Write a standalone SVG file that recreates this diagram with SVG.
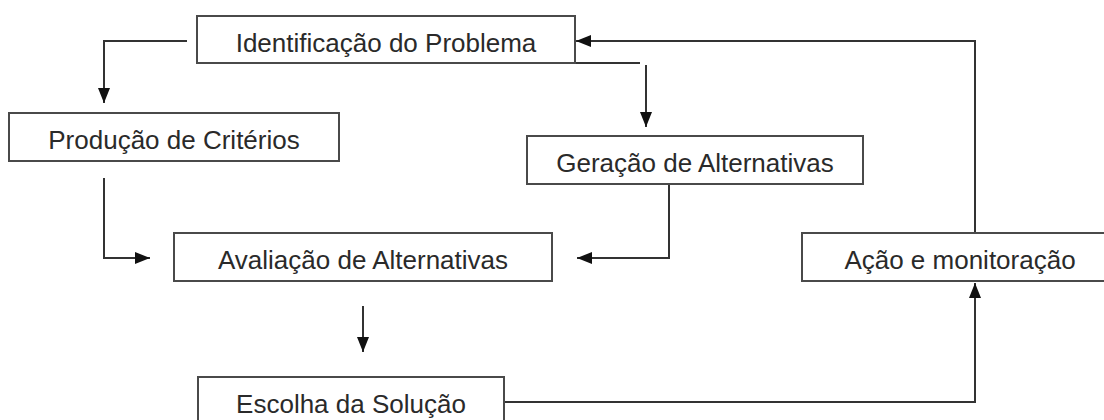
<svg xmlns="http://www.w3.org/2000/svg" width="1104" height="420" viewBox="0 0 1104 420">
<style>
.box{fill:#fff;stroke:#4a4a4a;stroke-width:2}
.lbl{font-family:"Liberation Sans",Arial,sans-serif;font-size:26px;fill:#2a2a2a;text-anchor:middle}
.con{fill:none;stroke:#333;stroke-width:2}
</style>
<defs>
<marker id="ah" markerUnits="userSpaceOnUse" markerWidth="16" markerHeight="12" refX="15" refY="6" orient="auto">
<path d="M0,0 L15,6 L0,12 z" fill="#111"/>
</marker>
</defs>
<rect width="1104" height="420" fill="#fff"/>
<g id="connectors">
<path class="con" d="M187 41 H104 V103" marker-end="url(#ah)"/>
<path class="con" d="M575 63 H640" stroke="#666"/>
<path class="con" d="M646 65 V127" marker-end="url(#ah)"/>
<path class="con" d="M669 184 V258 H577" marker-end="url(#ah)"/>
<path class="con" d="M104 178 V258 H150" marker-end="url(#ah)"/>
<path class="con" d="M363 306 V352" marker-end="url(#ah)"/>
<path class="con" d="M504 402 H975 V283" marker-end="url(#ah)"/>
<path class="con" d="M975 233 V41 H576" marker-end="url(#ah)"/>
</g>
<g id="n-identificacao">
<rect class="box" x="197" y="16" width="378" height="47"/>
<text class="lbl" x="386" y="52">Identificação do Problema</text>
</g>
<g id="n-producao">
<rect class="box" x="9" y="113" width="330" height="48"/>
<text class="lbl" x="174" y="149">Produção de Critérios</text>
</g>
<g id="n-geracao">
<rect class="box" x="527" y="136" width="336" height="48"/>
<text class="lbl" x="695" y="172">Geração de Alternativas</text>
</g>
<g id="n-avaliacao">
<rect class="box" x="174" y="233" width="378" height="48"/>
<text class="lbl" x="363" y="269">Avaliação de Alternativas</text>
</g>
<g id="n-acao">
<rect class="box" x="802" y="233" width="316" height="48"/>
<text class="lbl" x="960" y="269">Ação e monitoração</text>
</g>
<g id="n-escolha">
<rect class="box" x="198" y="377" width="306" height="60"/>
<text class="lbl" x="351" y="413">Escolha da Solução</text>
</g>
</svg>
